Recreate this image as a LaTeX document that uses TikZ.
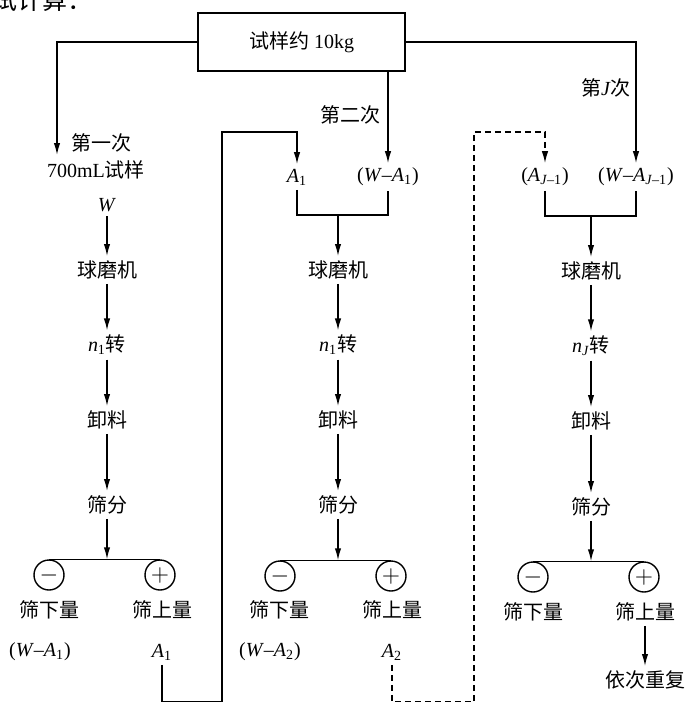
\documentclass[tikz,border=0pt]{standalone}
\usepackage{fontspec}
\setmainfont{Liberation Serif}
\newfontfamily\cjk{Noto Sans CJK SC}
\usetikzlibrary{arrows.meta}
\newcommand{\zh}[1]{{\cjk #1}}
\newcommand{\iv}[2]{\textit{#1}\textsubscript{#2}}

\begin{document}
\begin{tikzpicture}[x=0.5pt, y=-0.5pt, line width=0.7pt,
    >={Latex[length=6pt,width=3.2pt]},
    every node/.style={inner sep=2pt},
    sv/.style={circle, draw, minimum size=15pt, inner sep=0pt, font=\large}]
    \useasboundingbox (0,0) rectangle (685,702);
    \clip (0,0) rectangle (685,702);
    \node[anchor=west, font=\fontsize{12.5}{15}\selectfont] (title) at (-12,0) {\zh{试计算：}};

    % Muestra
    \node[draw, minimum width=103.5pt, minimum height=29pt] (box) at (301.5,42) {\zh{试样约} 10kg};

    % Primera vez
    \coordinate (in1) at (57,155);
    \node (n1) at (101,143) {\zh{第一次}};
    \node (s1) at (96,170) {700mL\zh{试样}};
    \node (w1) at (107,205) {\textit{W}};
    \node (m1) at (107,270) {\zh{球磨机}};
    \node (r1) at (107,345) {\iv{n}{1}\zh{转}};
    \node (d1) at (107,420) {\zh{卸料}};
    \node (f1) at (107,505) {\zh{筛分}};
    \node[sv] (mi1) at (49,575) {$-$};
    \node[sv] (pl1) at (160,575) {$+$};
    \node (u1) at (49,610) {\zh{筛下量}};
    \node (o1) at (162,610) {\zh{筛上量}};
    \node (wa1) at (40,652) {(\textit{W}–\iv{A}{1})};
    \node (a1) at (162,652) {\iv{A}{1}};

    \draw[->] (box.west) -| (in1);
    \draw[->] (w1) -- (m1);
    \draw[->] (m1) -- (r1);
    \draw[->] (r1) -- (d1);
    \draw[->] (d1) -- (f1);
    \draw[->] (f1) -- (f1 |- mi1.north);
    \draw (mi1.north) -- (pl1.north);

    % Segunda vez
    \node (n2) at (350,115) {\zh{第二次}};
    \node (b2) at (297,177) {\iv{A}{1}};
    \node (c2) at (388,177) {(\textit{W}–\iv{A}{1})};
    \coordinate (j2) at (338,215);
    \node (m2) at (338,270) {\zh{球磨机}};
    \node (r2) at (338,345) {\iv{n}{1}\zh{转}};
    \node (d2) at (338,420) {\zh{卸料}};
    \node (f2) at (338,505) {\zh{筛分}};
    \node[sv] (mi2) at (280,576) {$-$};
    \node[sv] (pl2) at (391,576) {$+$};
    \node (u2) at (279,610) {\zh{筛下量}};
    \node (o2) at (392,610) {\zh{筛上量}};
    \node (wa2) at (270,652) {(\textit{W}–\iv{A}{2})};
    \node (a2) at (392,652) {\iv{A}{2}};

    \draw[->] (box.south -| c2) -- (c2);
    \draw (b2) |- (j2) -| (c2);
    \draw[->] (j2) -- (m2);
    \draw[->] (m2) -- (r2);
    \draw[->] (r2) -- (d2);
    \draw[->] (d2) -- (f2);
    \draw[->] (f2) -- (f2 |- mi2.north);
    \draw (mi2.north) -- (pl2.north);

    % Vez J
    \node (n3) at (606,88) {\zh{第}\textit{J}\zh{次}};
    \node (b3) at (545,177) {(\iv{A}{\textit{J}–1})};
    \node (c3) at (636,177) {(\textit{W}–\iv{A}{\textit{J}–1})};
    \coordinate (j3) at (591,216);
    \node (m3) at (591,271) {\zh{球磨机}};
    \node (r3) at (591,346) {\iv{n}{\textit{J}}\zh{转}};
    \node (d3) at (591,421) {\zh{卸料}};
    \node (f3) at (591,507) {\zh{筛分}};
    \node[sv] (mi3) at (533,577) {$-$};
    \node[sv] (pl3) at (644,577) {$+$};
    \node (u3) at (533,612) {\zh{筛下量}};
    \node (o3) at (645,612) {\zh{筛上量}};
    \node (rep) at (645,680) {\zh{依次重复}};

    \draw[->] (box.east) -| (c3);
    \draw (b3) |- (j3) -| (c3);
    \draw[->] (j3) -- (m3);
    \draw[->] (m3) -- (r3);
    \draw[->] (r3) -- (d3);
    \draw[->] (d3) -- (f3);
    \draw[->] (f3) -- (f3 |- mi3.north);
    \draw (mi3.north) -- (pl3.north);
    \draw[->] (o3) -- (rep);

    % Retornos
    \coordinate (lb1) at (222,702);
    \coordinate (lt1) at (222,132);
    \coordinate (lb2) at (474,702);
    \coordinate (lt2) at (474,132);
    \draw[->] (a1) |- (lb1) -- (lt1) -| (b2);
    \draw[->, dash pattern=on 3pt off 2pt] (a2) |- (lb2) -- (lt2) -| (b3);
\end{tikzpicture}
\end{document}
